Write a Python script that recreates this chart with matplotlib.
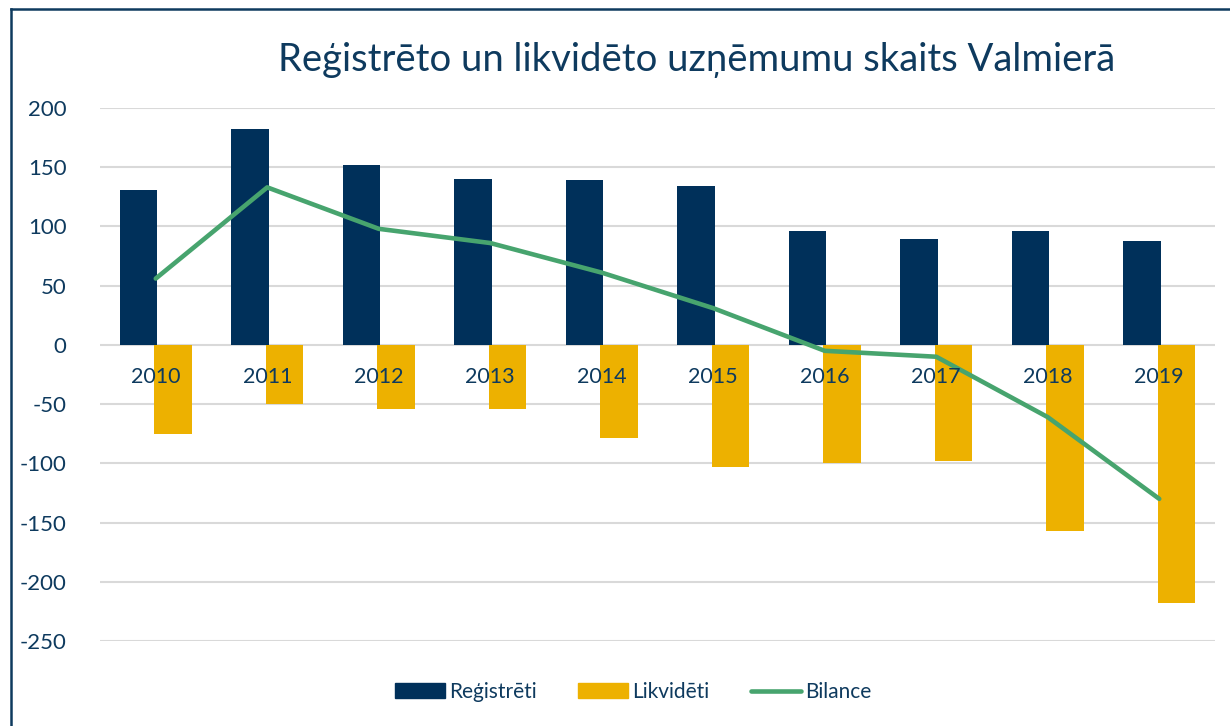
import matplotlib
matplotlib.use("Agg")
import matplotlib.pyplot as plt
from matplotlib.lines import Line2D
from matplotlib.patches import Patch
import numpy as np

years = ["2010", "2011", "2012", "2013", "2014", "2015", "2016", "2017", "2018", "2019"]
registered = [131, 182, 152, 140, 139, 134, 96, 89, 96, 88]
liquidated = [-75, -50, -54, -54, -79, -103, -100, -98, -157, -218]
balance = [56, 133, 98, 86, 61, 31, -5, -10, -61, -130]
yticks = [200, 150, 100, 50, 0, -50, -100, -150, -200, -250]

title = "Reģistrēto un likvidēto uzņēmumu skaits Valmierā"
labels = ["Reģistrēti", "Likvidēti", "Bilance"]

NAVY = "#00305A"
GOLD = "#EDB100"
GREEN = "#47A46E"
TEXT = "#0E3A5E"
GRID = "#D9D9D9"

plt.rcParams['font.family'] = ['Lato', 'DejaVu Sans']

fig = plt.figure(figsize=(12.3, 7.26), dpi=100)
ax = fig.add_axes([100/1230, 1-641/726, 1115/1230, (641-108)/726])

x = np.arange(len(years))
w = 0.34
off = 0.155
ax.bar(x - off, registered, width=w, color=NAVY, zorder=2)
ax.bar(x + off, liquidated, width=w, color=GOLD, zorder=2)
ax.plot(x, balance, color=GREEN, lw=3.3, zorder=4, solid_capstyle='round', solid_joinstyle='round')

ax.set_xlim(-0.5, len(years) - 0.5)
ax.set_ylim(-250, 200)
ax.set_yticks(yticks)
ax.set_yticklabels([str(v) for v in yticks])
ax.tick_params(axis='y', length=0, pad=24, labelsize=16, labelcolor=TEXT)
ax.set_xticks([])
ax.grid(axis='y', color=GRID, lw=1.5)
ax.set_axisbelow(True)
for s in ax.spines.values():
    s.set_visible(False)

lab_tr = matplotlib.transforms.offset_copy(ax.transData, fig=fig, y=-32/100*72, units='points')
for i, yr in enumerate(years):
    ax.text(i, 0, yr, transform=lab_tr, ha='center', va='center', fontsize=15.5, color=TEXT, zorder=5)

fig.text(697/1230, 1-60/726, title, ha='center', va='center', fontsize=27.5, color=TEXT)

handles = [Patch(color=NAVY), Patch(color=GOLD),
           Line2D([0], [0], color=GREEN, lw=3.3, solid_capstyle='round')]
fig.legend(handles, labels, loc='center', bbox_to_anchor=(633/1230, 1-692/726), ncol=3, frameon=False,
           fontsize=15, labelcolor=TEXT, handlelength=2.4, handleheight=0.7, handletextpad=0.2,
           columnspacing=2.0)

# frame lines (left and top)
fig.add_artist(Line2D([11/1230, 11/1230], [0, 1-9/726], transform=fig.transFigure, color=TEXT, lw=1.8))
fig.add_artist(Line2D([11/1230, 1], [1-9/726, 1-9/726], transform=fig.transFigure, color=TEXT, lw=1.8))

fig.savefig("out.png", dpi=100)
